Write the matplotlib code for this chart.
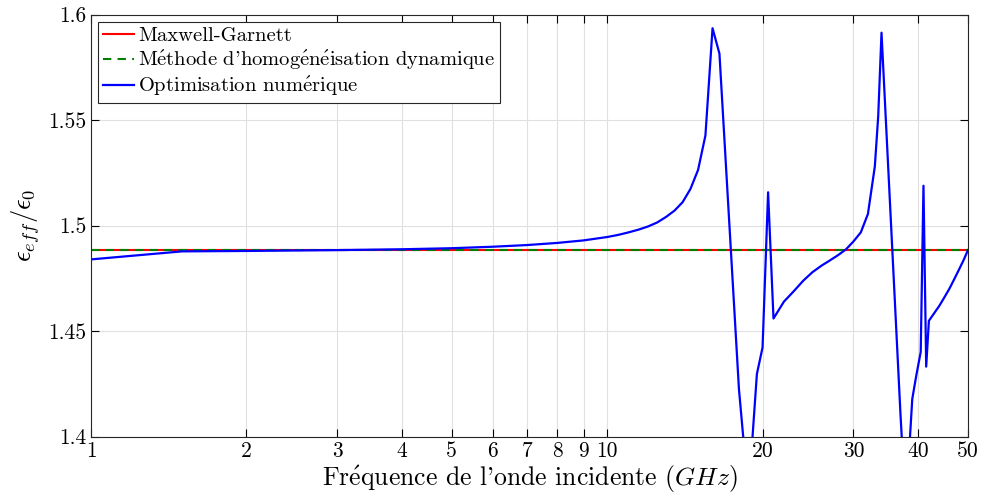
import matplotlib
matplotlib.use("Agg")
import matplotlib.pyplot as plt

plt.rcParams["font.family"] = ["cmr10", "DejaVu Serif"]
plt.rcParams["mathtext.fontset"] = "cm"
plt.rcParams["axes.formatter.use_mathtext"] = True

E = r"$\mathrm{\acute{e}}$"  # cmr10 has no é glyph

# constant estimates
mg_value = 1.4884
dyn_value = 1.4884

# numerical optimisation (GHz, eps_eff/eps_0)
freq = [1, 1.5, 2, 3, 4, 5, 6, 7, 8, 9, 10, 10.5, 11, 11.5, 12, 12.5,
        13, 13.5, 14, 14.5, 15, 15.5, 16, 16.5, 18, 18.5, 19, 19.5, 20,
        20.5, 21, 22, 23, 24, 25, 26, 27, 28, 29, 30, 31, 32, 33, 33.5,
        34, 37, 37.5, 38, 38.5, 39, 39.7, 40.5, 41, 41.5, 42, 43, 44, 45,
        46, 47, 48, 49, 50]
eps_opt = [1.4840, 1.4878, 1.4880, 1.4884, 1.4888, 1.4893, 1.4900, 1.4908,
           1.4918, 1.4930, 1.4946, 1.4956, 1.4968, 1.4981, 1.4996, 1.5015,
           1.5041, 1.5071, 1.5111, 1.5174, 1.5264, 1.5427, 1.5935, 1.5815,
           1.4226, 1.3900, 1.3900, 1.4297, 1.4423, 1.5158, 1.4560, 1.4640,
           1.4690, 1.4740, 1.4780, 1.4810, 1.4835, 1.4860, 1.4887, 1.4925,
           1.4968, 1.5055, 1.5280, 1.5516, 1.5914, 1.4108, 1.3850, 1.3800,
           1.3950, 1.4179, 1.4289, 1.4402, 1.5189, 1.4332, 1.4549, 1.4585,
           1.4620, 1.4660, 1.4700, 1.4745, 1.4790, 1.4835, 1.4884]

xticks = [1, 2, 3, 4, 5, 6, 7, 8, 9, 10, 20, 30, 40, 50]
yticks = [1.4, 1.45, 1.5, 1.55, 1.6]

fig = plt.figure(figsize=(9.84, 5.01), dpi=100)
ax = fig.add_axes([0.0925, 0.1283, 0.8912, 0.8427])

ax.plot([freq[0], freq[-1]], [mg_value, mg_value], color="red", lw=1.5,
        label="Maxwell-Garnett")
ax.plot([freq[0], freq[-1]], [dyn_value, dyn_value], color="green", lw=1.5,
        ls=(0, (4, 3)),
        label=f"M{E}thode d'homog{E}n{E}isation dynamique")
ax.plot(freq, eps_opt, color="blue", lw=1.6,
        label=f"Optimisation num{E}rique")

ax.set_xscale("log")
ax.set_xlim(1, 50)
ax.set_ylim(1.4, 1.6)
ax.set_xticks(xticks)
ax.set_xticklabels([str(t) for t in xticks])
ax.xaxis.set_minor_locator(matplotlib.ticker.NullLocator())
ax.set_yticks(yticks)
ax.set_yticklabels([f"{t:g}" for t in yticks])

ax.tick_params(direction="in", top=True, right=True, labelsize=15.5,
               length=6, width=0.8)
ax.grid(True, color="#e0e0e0", lw=0.8)
ax.set_axisbelow(True)
for s in ax.spines.values():
    s.set_color("#262626")
    s.set_linewidth(0.8)

ax.set_xlabel(f"Fr{E}quence de l'onde incidente $(GHz)$", fontsize=18.5,
              labelpad=2)
ax.set_ylabel(r"$\epsilon_{eff}/\epsilon_0$", fontsize=19)

leg = ax.legend(loc="upper left", fontsize=14.8, handlelength=1.5,
                handletextpad=0.2, borderpad=0.25, labelspacing=0.15,
                borderaxespad=0.35, fancybox=False, framealpha=1)
leg.get_frame().set_edgecolor("#262626")
leg.get_frame().set_linewidth(0.8)

fig.savefig("out.png", dpi=100)
